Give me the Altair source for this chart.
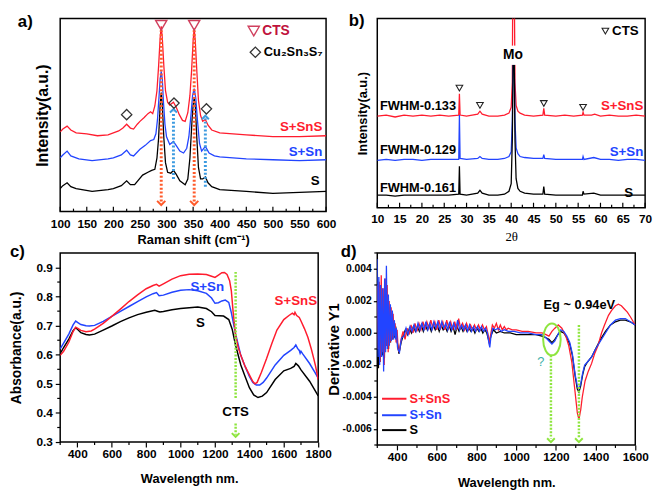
import altair as alt
import pandas as pd

FONT = "Liberation Sans"
RED = "#ff1c2e"
BLUE = "#2244ff"
BLACK = "#000000"
GREEN = "#8ee53f"

# ---------------- panel a : Raman ----------------
A_TICKS = list(range(100, 601, 50))
A_MINOR = list(range(125, 600, 50))
A_RED = [(100,83),(105,86),(113,89),(120,85),(130,82),(150,81),(170,79),(190,80),(200,82),(210,84),(218,87),(225,91),(232,87),(238,86),(245,91),(250,94),(258,98),(265,102),(270,104),(274,102),(278,110),(282,126),(285,151),(288,181),(290,193),(292,181),(295,151),(298,126),(302,114),(306,111),(313,114),(318,109),(324,101),(330,95),(335,94),(340,103),(344,121),(347,146),(350,178),(352,191),(354,178),(357,146),(360,116),(364,100),(368,94),(373,96),(378,90),(385,85),(400,82),(450,80),(500,78),(550,78),(600,79)]
A_BLUE = [(100,56),(105,59),(113,63),(120,58),(135,55),(160,53),(190,55),(200,56),(215,59),(225,64),(232,59),(238,58),(250,65),(260,69),(270,74),(276,75),(280,81),(283,96),(286,121),(288,138),(290,146),(292,138),(294,116),(297,91),(300,78),(306,70),(313,73),(318,69),(325,63),(332,61),(338,66),(342,78),(346,101),(349,121),(352,128),(355,118),(358,96),(362,71),(366,63),(373,68),(380,61),(390,58),(400,57),(450,55),(500,54),(550,53),(600,54)]
A_BLACK = [(100,24),(105,27),(113,30),(120,26),(130,24),(160,21),(190,23),(200,24),(215,27),(225,32),(232,28),(240,28),(255,38),(265,41),(272,43),(278,44),(282,56),(285,76),(288,111),(290,124),(292,111),(295,76),(298,51),(302,41),(308,40),(313,43),(318,39),(325,32),(335,28),(340,34),(344,56),(348,96),(350,111),(352,118),(354,111),(357,76),(360,46),(364,34),(368,34),(373,36),(378,30),(385,26),(400,23),(450,21),(500,19),(550,20),(600,21)]
A_CTS_MARKS = [(290,194),(352,194),(464,188)]
A_C237_MARKS = [(225,101),(314,113),(375,107),(467,166)]
A_RED_ARROWS = [(290,189,10),(352,189,10)]
A_RED_HEADS = [(290,9),(352,9)]
A_BLUE_ARROWS = [(313,34,104),(373,26,97)]
A_BLUE_HEADS = [(313,105),(373,98)]
A_SERIES_LABELS = [(593,88,"S+SnS",RED),(593,62,"S+Sn",BLUE),(588,32,"S",BLACK)]
A_LEGEND = [(480,188,"CTS","#c0123c"),(483,166,"Cu\u2082Sn\u2083S\u2087",BLACK)]

# ---------------- panel b : XRD ----------------
B_TICKS = list(range(10, 71, 5))
B_MINOR = [x + 2.5 for x in range(10, 70, 5)]
B_RED = [(10,95),(12,96),(14,94),(16,96),(18,95),(20,96),(22,95),(24,96),(26,95),(28.25,96),(28.4,118),(28.55,96),(30,95),(32.5,97),(33,100),(33.5,97),(35,95),(37,95),(38.5,96),(39.5,98),(40.0,104),(40.25,130),(40.42,300),(40.58,300),(40.85,130),(41.1,106),(41.5,100),(42,98),(43,96),(45,95),(47.1,96),(47.3,103),(47.5,96),(50,95),(52,96),(54,95),(55.95,96),(56.1,99),(56.3,96),(58,96),(58.7,97),(60,95),(62,96),(64,95),(66,95),(68,96),(70,95)]
B_BLUE = [(10,49),(12,50),(14,49),(16,50),(18,50),(20,49),(22,50),(24,50),(26,50),(28.25,50),(28.4,96),(28.55,51),(30,50),(32.5,51),(33,53),(33.5,51),(35,50),(37,50),(38.5,51),(39.5,53),(40.0,58),(40.25,90),(40.45,165),(40.65,165),(40.85,90),(41.1,62),(41.5,56),(42,53),(43,52),(45,51),(47.1,51),(47.3,55),(47.5,51),(50,50),(52,50),(54,50),(55.95,50),(56.1,53),(56.3,50),(58.5,52),(60,50),(62,50),(64,49),(66,50),(68,50),(70,49)]
B_BLACK = [(10,13),(12,13),(14,12),(16,13),(18,13),(20,13),(22,13),(24,13),(26,13),(28.25,14),(28.4,43),(28.55,14),(30,13),(32.5,15),(33,18),(33.5,15),(35,13),(37,13),(38.5,14),(39.5,17),(40.0,25),(40.25,70),(40.45,165),(40.65,165),(40.85,70),(41.1,30),(41.5,20),(42,17),(43,15),(45,14),(47.1,14),(47.3,22),(47.5,14),(50,13),(52,13),(54,13),(55.95,13),(56.1,17),(56.3,14),(58.5,15),(60,13),(62,13),(64,13),(66,13),(68,13),(70,13)]
B_CTS_MARKS = [(28.4,124),(33,106),(47.3,108),(56.1,104),(61.1,183)]
B_MO_BOX = [(38.6,42.4,148,168)]
B_LEFT_LABELS = [(10.6,105,"FWHM-0.133"),(10.6,60,"FWHM-0.129"),(10.6,20,"FWHM-0.161")]
B_SERIES_LABELS = [(69.6,105,"S+SnS",RED),(69.6,58,"S+Sn",BLUE),(67.3,15,"S",BLACK)]

# ---------------- panel c : absorbance ----------------
C_TICKS = list(range(400, 1801, 200))
C_MINOR_X = list(range(300, 1800, 200))
C_YTICKS = [0.3, 0.4, 0.5, 0.6, 0.7, 0.8, 0.9]
C_MINOR_Y = [0.35, 0.45, 0.55, 0.65, 0.75, 0.85]
C_RED = [(300,0.598),(320,0.612),(350,0.643),(375,0.680),(390,0.695),(405,0.690),(420,0.684),(450,0.679),(480,0.682),(500,0.688),(550,0.708),(600,0.732),(650,0.757),(700,0.783),(750,0.806),(800,0.827),(840,0.838),(860,0.842),(875,0.836),(900,0.844),(950,0.860),(1000,0.872),(1050,0.877),(1100,0.878),(1150,0.876),(1180,0.870),(1200,0.866),(1220,0.874),(1240,0.882),(1255,0.883),(1270,0.876),(1285,0.855),(1295,0.820),(1305,0.750),(1320,0.665),(1335,0.625),(1350,0.598),(1375,0.560),(1400,0.531),(1420,0.508),(1432,0.500),(1445,0.505),(1470,0.540),(1500,0.587),(1530,0.638),(1560,0.685),(1600,0.721),(1630,0.735),(1650,0.743),(1660,0.738),(1665,0.746),(1675,0.735),(1690,0.728),(1700,0.716),(1720,0.690),(1740,0.660),(1760,0.620),(1775,0.585),(1785,0.560),(1800,0.515)]
C_BLUE = [(300,0.620),(320,0.640),(350,0.671),(375,0.703),(390,0.716),(405,0.710),(420,0.704),(450,0.700),(470,0.699),(500,0.701),(550,0.715),(600,0.732),(650,0.749),(700,0.766),(750,0.783),(800,0.799),(840,0.810),(860,0.814),(875,0.803),(900,0.805),(950,0.815),(1000,0.822),(1050,0.824),(1100,0.820),(1150,0.811),(1180,0.795),(1200,0.777),(1220,0.779),(1240,0.785),(1260,0.788),(1280,0.780),(1295,0.745),(1310,0.700),(1320,0.671),(1350,0.598),(1375,0.560),(1400,0.526),(1420,0.505),(1440,0.496),(1460,0.496),(1480,0.505),(1500,0.520),(1550,0.565),(1600,0.598),(1640,0.615),(1660,0.625),(1670,0.634),(1680,0.622),(1690,0.615),(1695,0.605),(1700,0.612),(1710,0.603),(1750,0.570),(1780,0.540),(1800,0.520)]
C_BLACK = [(300,0.604),(320,0.625),(350,0.654),(375,0.683),(390,0.693),(405,0.685),(420,0.676),(450,0.670),(470,0.668),(500,0.671),(550,0.685),(600,0.699),(650,0.714),(700,0.727),(750,0.738),(800,0.746),(850,0.753),(870,0.749),(880,0.747),(900,0.749),(950,0.755),(1000,0.759),(1050,0.762),(1100,0.764),(1150,0.759),(1180,0.748),(1200,0.735),(1250,0.733),(1280,0.721),(1300,0.688),(1320,0.632),(1350,0.565),(1375,0.525),(1400,0.487),(1425,0.462),(1450,0.453),(1475,0.458),(1500,0.470),(1550,0.515),(1600,0.545),(1640,0.553),(1660,0.560),(1670,0.570),(1685,0.562),(1700,0.548),(1750,0.509),(1800,0.459)]
C_GREEN_LINES = [(1320,0.885,0.447),(1320,0.364,0.325)]
C_GREEN_HEADS = [(1320,0.324)]
C_LABELS = [(1155,0.833,"S+Sn",BLUE),(1670,0.783,"S+SnS",RED),(1115,0.71,"S",BLACK),(1320,0.403,"CTS",BLACK)]

# ---------------- panel d : derivative ----------------
D_TICKS = list(range(400, 1601, 200))
D_MINOR_X = list(range(300, 1600, 200))
D_YTICKS = [-0.006, -0.004, -0.002, 0.0, 0.002, 0.004]
D_MINOR_Y = [-0.007, -0.005, -0.003, -0.001, 0.001, 0.003, 0.005]
D_RED = [(300,0.0030),(305,-0.0010),(310,0.0032),(315,-0.0018),(320,0.0036),(325,-0.0012),(330,0.0028),(335,-0.0020),(340,0.0034),(345,-0.0008),(350,0.0030),(355,-0.0012),(360,0.0020),(365,-0.0006),(370,0.0016),(375,-0.0004),(380,0.0012),(385,-0.0002),(390,0.0006),(395,-0.0006),(400,0.0002),(405,-0.0010),(410,-0.0012),(415,-0.0008),(420,-0.0004),(430,0.0001),(440,-0.0004),(450,0.0003),(460,-0.0001),(470,0.0005),(480,0.0000),(490,0.0006),(500,0.0001),(510,0.0006),(520,0.0002),(530,0.0007),(540,0.0002),(550,0.0007),(560,0.0003),(570,0.0008),(580,0.0003),(590,0.0007),(600,0.0002),(610,0.0008),(620,0.0003),(630,0.0007),(640,0.0002),(650,0.0008),(660,0.0003),(670,0.0007),(680,0.0002),(690,0.0007),(700,0.0002),(710,0.0009),(720,0.0003),(730,0.0006),(740,0.0002),(750,0.0006),(760,0.0002),(770,0.0005),(780,0.0002),(790,0.0005),(800,0.0002),(810,0.0005),(820,0.0002),(830,0.0005),(840,0.0002),(850,0.0004),(860,-0.0002),(865,-0.0007),(870,-0.0002),(880,0.0005),(890,0.0003),(900,0.0006),(910,0.0002),(920,0.0005),(930,0.0002),(940,0.0004),(950,0.0002),(960,0.0003),(980,0.0002),(1000,0.0002),(1030,0.0001),(1060,0.0001),(1100,0.0000),(1130,0.0000),(1150,-0.0001),(1165,-0.0002),(1180,0.0001),(1195,0.0003),(1212,0.0005),(1230,0.0003),(1250,-0.0002),(1265,-0.0008),(1280,-0.0018),(1295,-0.0035),(1308,-0.0050),(1316,-0.0054),(1325,-0.0048),(1333,-0.0040),(1347,-0.0030),(1363,-0.0024),(1380,-0.0019),(1395,-0.0013),(1412,-0.0008),(1430,0.0000),(1445,0.0005),(1465,0.0011),(1480,0.0014),(1500,0.0017),(1515,0.0018),(1530,0.0017),(1545,0.0015),(1560,0.0013),(1576,0.0010),(1590,0.0007),(1600,0.0005)]
D_BLUE = [(300,0.0046),(304,-0.0015),(308,0.0035),(312,-0.0020),(317,0.0030),(322,-0.0015),(327,0.0028),(332,-0.0024),(337,0.0034),(342,-0.0012),(346,0.0042),(351,-0.0010),(356,0.0024),(361,-0.0008),(366,0.0018),(371,-0.0005),(376,0.0014),(381,-0.0004),(386,0.0008),(391,-0.0004),(396,0.0003),(402,-0.0009),(407,-0.0011),(412,-0.0012),(417,-0.0007),(423,-0.0003),(435,-0.0002),(445,0.0003),(455,-0.0001),(465,0.0004),(475,0.0001),(485,0.0005),(495,0.0001),(505,0.0006),(515,0.0002),(525,0.0006),(535,0.0002),(545,0.0007),(555,0.0002),(565,0.0006),(575,0.0002),(585,0.0007),(595,0.0003),(605,0.0007),(615,0.0002),(625,0.0007),(635,0.0003),(645,0.0006),(655,0.0002),(665,0.0007),(675,0.0002),(685,0.0006),(695,0.0002),(705,0.0008),(715,0.0002),(725,0.0005),(735,0.0002),(745,0.0005),(755,0.0001),(765,0.0005),(775,0.0001),(785,0.0004),(795,0.0001),(805,0.0004),(815,0.0001),(825,0.0004),(835,0.0001),(845,0.0003),(855,0.0000),(862,-0.0006),(867,-0.0009),(872,-0.0003),(882,0.0003),(895,0.0002),(910,0.0003),(925,0.0001),(940,0.0002),(960,0.0001),(990,0.0001),(1020,0.0000),(1060,0.0000),(1100,-0.0001),(1130,-0.0001),(1150,-0.0003),(1165,-0.0005),(1180,-0.0007),(1195,-0.0005),(1210,-0.0001),(1225,0.0002),(1240,0.0001),(1255,-0.0002),(1270,-0.0006),(1283,-0.0013),(1297,-0.0026),(1308,-0.0033),(1316,-0.0035),(1325,-0.0032),(1335,-0.0025),(1345,-0.0020),(1360,-0.0018),(1380,-0.0015),(1400,-0.0010),(1425,-0.0005),(1450,0.0000),(1475,0.0005),(1500,0.0008),(1525,0.0009),(1550,0.0009),(1575,0.0007),(1600,0.0005)]
D_BLACK = [(302,0.0030),(306,-0.0022),(311,0.0030),(315,-0.0018),(320,0.0026),(326,-0.0014),(331,0.0022),(336,-0.0016),(341,0.0026),(347,-0.0008),(352,0.0020),(357,-0.0010),(362,0.0016),(367,-0.0006),(372,0.0012),(378,-0.0004),(383,0.0008),(388,-0.0003),(393,0.0004),(398,-0.0004),(404,-0.0008),(409,-0.0013),(414,-0.0010),(420,-0.0006),(432,-0.0001),(442,0.0002),(452,-0.0001),(462,0.0003),(472,0.0000),(482,0.0004),(492,0.0001),(502,0.0004),(512,0.0001),(522,0.0005),(532,0.0001),(542,0.0005),(552,0.0002),(562,0.0005),(572,0.0001),(582,0.0005),(592,0.0002),(602,0.0005),(612,0.0001),(622,0.0005),(632,0.0002),(642,0.0004),(652,0.0001),(662,0.0005),(672,0.0001),(682,0.0004),(692,-0.0001),(702,0.0004),(712,0.0001),(722,0.0004),(732,0.0001),(742,0.0004),(752,0.0001),(762,0.0003),(772,0.0001),(782,0.0003),(792,0.0000),(802,0.0003),(812,0.0001),(822,0.0003),(832,0.0000),(842,0.0002),(852,0.0000),(860,-0.0004),(866,-0.0006),(872,-0.0002),(885,0.0002),(900,0.0000),(920,0.0001),(940,0.0000),(970,0.0000),(1000,-0.0001),(1050,-0.0001),(1100,-0.0001),(1130,-0.0002),(1150,-0.0003),(1165,-0.0004),(1180,-0.0006),(1195,-0.0004),(1210,-0.0001),(1222,0.0001),(1240,0.0000),(1255,-0.0003),(1270,-0.0007),(1283,-0.0014),(1297,-0.0027),(1308,-0.0035),(1316,-0.0037),(1325,-0.0033),(1335,-0.0026),(1345,-0.0021),(1360,-0.0018),(1380,-0.0015),(1400,-0.0010),(1425,-0.0004),(1450,0.0001),(1475,0.0005),(1500,0.0007),(1525,0.0008),(1550,0.0008),(1575,0.0007),(1600,0.0005)]
D_LEGEND_LINES = [(324,447,-0.00411,RED),(324,447,-0.00514,BLUE),(324,447,-0.00607,BLACK)]
D_LEGEND_TEXT = [(462,-0.00411,"S+SnS",RED),(462,-0.00514,"S+Sn",BLUE),(462,-0.00607,"S",BLACK)]
D_GREEN_LINES = [(1175,-0.0014,-0.0066),(1316,0.0005,-0.0066)]
D_GREEN_HEADS = [(1175,-0.0067),(1316,-0.0067)]
D_ELLIPSE = [(1180,-0.0004)]
D_EG = [(1318,0.00176,"Eg ~ 0.94eV")]
D_Q = [(1124,-0.0018,"?")]

CHEV_DOWN = "M-1,-0.5L0,0.5L1,-0.5"
CHEV_UP = "M-1,0.5L0,-0.5L1,0.5"
ELLIPSE = "M0,-1A0.55,1 0 1,1 0,1A0.55,1 0 1,1 0,-1Z"


def axis(**kw):
    base = dict(grid=False, domain=False, labelFont=FONT, labelFontWeight="bold", labelColor="black",
                titleFont=FONT, titleFontWeight="bold", titleColor="black", labelFlush=False,
                labelOverlap=False, tickColor="black", tickWidth=1.2)
    base.update(kw)
    return alt.Axis(**base)


def line(pairs, color, X, Y, w=1.3):
    return alt.Chart(pd.DataFrame(pairs, columns=["x", "y"])).mark_line(
        color=color, strokeWidth=w, clip=True).encode(x=X, y=Y)


def texts(rows, X, Y, size, align="center", weight="bold", font=FONT, baseline="middle"):
    df = pd.DataFrame(rows, columns=["x", "y", "t", "c"])
    return alt.Chart(df).mark_text(font=font, fontSize=size, fontWeight=weight, align=align,
                                   baseline=baseline).encode(
        x=X, y=Y, text="t:N", color=alt.Color("c:N", scale=None))


def points(rows, X, Y, shape, size, color, sw=1.3, filled=False):
    df = pd.DataFrame(rows, columns=["x", "y"])
    return alt.Chart(df).mark_point(shape=shape, size=size, filled=filled, color=color,
                                    strokeWidth=sw, opacity=1).encode(x=X, y=Y)


def vrules(rows, X, Y, color, w, dash):
    df = pd.DataFrame(rows, columns=["x", "y", "y2"])
    return alt.Chart(df).mark_rule(color=color, strokeWidth=w, strokeDash=dash).encode(
        x=X, y=Y, y2="y2:Q")


def xticks(values, X, y0, y1, w=1.2):
    return alt.Chart(pd.DataFrame({"x": values})).mark_rule(color="black", strokeWidth=w).encode(
        x=X, y=alt.value(y0), y2=alt.value(y1))


def yticks(values, Y, x0, x1, w=1.2):
    return alt.Chart(pd.DataFrame({"y": values})).mark_rule(color="black", strokeWidth=w).encode(
        y=Y, x=alt.value(x0), x2=alt.value(x1))


def letter(t, dx, dy):
    return alt.Chart(pd.DataFrame({"t": [t]})).mark_text(
        font=FONT, fontSize=17, fontWeight="bold", align="left", baseline="top", color="black"
    ).encode(x=alt.value(dx), y=alt.value(dy), text="t:N")


# ---------- build panel a ----------
AW, AH = 270, 196
AX = alt.X("x:Q", scale=alt.Scale(domain=[100, 600], nice=False, zero=False),
           axis=axis(values=A_TICKS, title="Raman shift (cm\u207b\u00b9)", ticks=False, labelFontSize=12,
                     labelPadding=7, titleFontSize=13, titlePadding=4))
AY = alt.Y("y:Q", scale=alt.Scale(domain=[0, 201], nice=False, zero=False),
           axis=axis(labels=False, ticks=False, title="Intensity(a.u.)", titleFontSize=16, titlePadding=10))
panel_a = alt.layer(
    xticks(A_TICKS, AX, AH, AH - 5),
    xticks(A_MINOR, AX, AH, AH - 3),
    line(A_BLACK, BLACK, AX, AY),
    line(A_BLUE, BLUE, AX, AY),
    line(A_RED, RED, AX, AY),
    vrules(A_RED_ARROWS, AX, AY, "#ff5a2a", 3, [2, 2]),
    vrules(A_BLUE_ARROWS, AX, AY, "#3d9be0", 3, [2, 2]),
    points(A_RED_HEADS, AX, AY, CHEV_DOWN, 70, "#ff5a2a", 2),
    points(A_BLUE_HEADS, AX, AY, CHEV_UP, 50, "#3d9be0", 2),
    points(A_CTS_MARKS, AX, AY, "triangle-down", 130, "#d0405e", 1.4),
    points(A_C237_MARKS, AX, AY, "diamond", 110, "#333333", 1.3),
    texts(A_SERIES_LABELS, AX, AY, 13.5, align="right"),
    texts(A_LEGEND[:1], AX, AY, 14, align="left"),
    texts(A_LEGEND[1:], AX, AY, 13, align="left"),
    letter("a)", -43, -4),
).properties(width=AW, height=AH)

# ---------- build panel b ----------
BW, BH = 272, 192
BX = alt.X("x:Q", scale=alt.Scale(domain=[10, 70], nice=False, zero=False),
           axis=axis(values=B_TICKS, title="2\u03b8", ticks=False, labelFontSize=12, labelPadding=6,
                     titleFontSize=13, titlePadding=6, titleFont="Liberation Serif", titleFontWeight="normal"))
BY = alt.Y("y:Q", scale=alt.Scale(domain=[0, 196], nice=False, zero=False),
           axis=axis(labels=False, ticks=False, title="Intensity(a.u.)", titleFontSize=13, titlePadding=8))
mo_box = alt.Chart(pd.DataFrame(B_MO_BOX, columns=["x", "x2", "y", "y2"])).mark_rect(color="white").encode(
    x=BX, x2="x2:Q", y=BY, y2="y2:Q")
panel_b = alt.layer(
    xticks(B_TICKS, BX, BH, BH - 5),
    xticks(B_MINOR, BX, BH, BH - 3),
    line(B_RED, RED, BX, BY),
    line(B_BLUE, BLUE, BX, BY),
    line(B_BLACK, BLACK, BX, BY),
    mo_box,
    texts([(40.4, 158, "Mo", BLACK)], BX, BY, 14),
    points(B_CTS_MARKS, BX, BY, "triangle-down", 45, "#222222", 1.1),
    texts([(62.6, 183, "CTS", BLACK)], BX, BY, 13.5, align="left"),
    texts([(x, y, t, BLACK) for x, y, t in B_LEFT_LABELS], BX, BY, 13, align="left"),
    texts(B_SERIES_LABELS, BX, BY, 13.5, align="right"),
    letter("b)", -29, -5),
).properties(width=BW, height=BH)

# ---------- build panel c ----------
CW, CH = 262, 192
CX = alt.X("x:Q", scale=alt.Scale(domain=[300, 1800], nice=False, zero=False),
           axis=axis(values=C_TICKS, format="d", title="Wavelength nm.", tickSize=5, labelFontSize=12,
                     labelPadding=2, titleFontSize=13, titlePadding=13))
CY = alt.Y("y:Q", scale=alt.Scale(domain=[0.3, 0.95], nice=False, zero=False),
           axis=axis(values=C_YTICKS, format=".1f", title="Absorbance(a.u.)", tickSize=5, labelFontSize=12,
                     labelPadding=3, titleFontSize=14, titlePadding=13))
panel_c = alt.layer(
    xticks(C_MINOR_X, CX, CH, CH + 3),
    yticks(C_MINOR_Y, CY, 0, -3),
    line(C_BLACK, BLACK, CX, CY, 1.5),
    line(C_BLUE, BLUE, CX, CY, 1.5),
    line(C_RED, RED, CX, CY, 1.5),
    vrules(C_GREEN_LINES, CX, CY, GREEN, 2.5, [2, 1.5]),
    points(C_GREEN_HEADS, CX, CY, CHEV_DOWN, 60, GREEN, 2),
    texts(C_LABELS, CX, CY, 13.5),
    letter("c)", -51, -9),
).properties(width=CW, height=CH)

# ---------- build panel d ----------
DW, DH = 262, 195
DX = alt.X("x:Q", scale=alt.Scale(domain=[300, 1600], nice=False, zero=False),
           axis=axis(values=D_TICKS, format="d", title="Wavelength nm.", tickSize=5, labelFontSize=12,
                     labelPadding=2, titleFontSize=13, titlePadding=14))
DY = alt.Y("y:Q", scale=alt.Scale(domain=[-0.007, 0.005], nice=False, zero=False),
           axis=axis(values=D_YTICKS, format=".3f", labelExpr="replace(datum.label, '\u2212', '-')",
                     title="Derivative Y1", tickSize=4, labelFontSize=10.5, labelPadding=2,
                     titleFontSize=15, titlePadding=1))
legend_lines = alt.Chart(pd.DataFrame(D_LEGEND_LINES, columns=["x", "x2", "y", "c"])).mark_rule(
    strokeWidth=2).encode(x=DX, x2="x2:Q", y=DY, color=alt.Color("c:N", scale=None))
panel_d = alt.layer(
    xticks(D_MINOR_X, DX, DH, DH + 3),
    yticks(D_MINOR_Y, DY, 0, -3),
    line(D_BLACK, BLACK, DX, DY, 1.3),
    line(D_RED, RED, DX, DY, 1.3),
    line(D_BLUE, BLUE, DX, DY, 1.3),
    vrules(D_GREEN_LINES, DX, DY, GREEN, 2.5, [2, 1.5]),
    points(D_GREEN_HEADS, DX, DY, CHEV_DOWN, 60, GREEN, 2),
    points(D_ELLIPSE, DX, DY, ELLIPSE, 1050, GREEN, 2),
    legend_lines,
    texts(D_LEGEND_TEXT, DX, DY, 13, align="left"),
    texts([(x, y, t, BLACK) for x, y, t in D_EG], DX, DY, 13),
    texts([(x, y, t, "#3cb0a8") for x, y, t in D_Q], DX, DY, 13, weight="normal"),
    letter("d)", -37, -9),
).properties(width=DW, height=DH)

row1 = alt.hconcat(panel_a, panel_b, spacing=52, bounds="flush")
row2 = alt.hconcat(panel_c, panel_d, spacing=60, bounds="flush")
chart = alt.vconcat(row1, row2, spacing=-5).properties(
    padding={"left": 0, "top": 0, "right": 0, "bottom": 0}, background="white"
).configure_view(stroke="black", strokeWidth=1.5)

chart.save("out.html", embed_options={"renderer": "svg", "actions": False})
